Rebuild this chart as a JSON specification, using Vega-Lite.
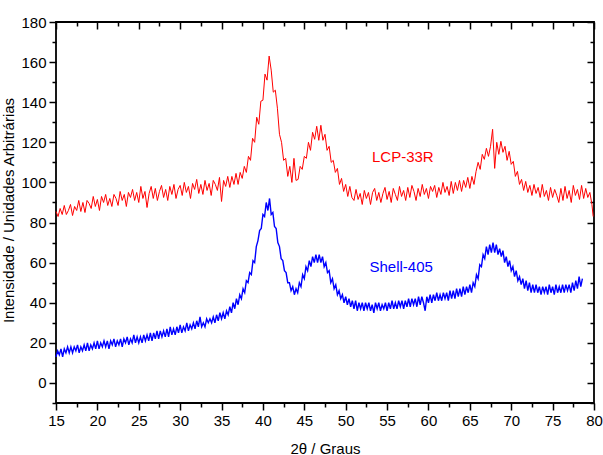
{
"$schema": "https://vega.github.io/schema/vega-lite/v6.json",
"width": 538, "height": 381,
"autosize": {"type": "none"},
"padding": {"left": 56, "top": 22, "right": 9, "bottom": 52},
"background": "white",
"config": {
 "view": {"stroke": "black", "strokeWidth": 1.8},
 "font": "Liberation Sans",
 "axis": {"grid": false, "domain": false, "tickColor": "black", "tickWidth": 1.5, "labelFont": "Liberation Sans", "labelFontSize": 15, "labelColor": "black", "labelFlush": false, "labelOverlap": false, "titleFont": "Liberation Sans", "titleFontSize": 15, "titleFontWeight": "normal", "titleColor": "black"}
},
"datasets": {
 "lcp": [
{"t":15,"i":85.5},{"t":15.25,"i":83},{"t":15.5,"i":87},{"t":15.75,"i":84},{"t":16,"i":88.5},{"t":16.25,"i":84},{"t":16.5,"i":86},{"t":16.75,"i":89},{"t":17,"i":83.5},{"t":17.25,"i":88},{"t":17.5,"i":86},{"t":17.75,"i":91},{"t":18,"i":85.5},{"t":18.25,"i":90},{"t":18.5,"i":85},{"t":18.75,"i":91},{"t":19,"i":89.5},{"t":19.25,"i":87},{"t":19.5,"i":93},{"t":19.75,"i":88},{"t":20,"i":91.5},{"t":20.25,"i":86},{"t":20.5,"i":93},{"t":20.75,"i":90},{"t":21,"i":94},{"t":21.25,"i":88.5},{"t":21.5,"i":92},{"t":21.75,"i":88},{"t":22,"i":94},{"t":22.25,"i":92},{"t":22.5,"i":88.5},{"t":22.75,"i":95.5},{"t":23,"i":91},{"t":23.25,"i":94},{"t":23.5,"i":88},{"t":23.75,"i":95},{"t":24,"i":92.5},{"t":24.25,"i":96.5},{"t":24.5,"i":91},{"t":24.75,"i":95},{"t":25,"i":90},{"t":25.25,"i":98},{"t":25.5,"i":92},{"t":25.75,"i":95.5},{"t":26,"i":87.5},{"t":26.25,"i":94.5},{"t":26.5,"i":98},{"t":26.75,"i":92},{"t":27,"i":97},{"t":27.25,"i":91},{"t":27.5,"i":95.5},{"t":27.75,"i":98.5},{"t":28,"i":92.5},{"t":28.25,"i":96.5},{"t":28.5,"i":91},{"t":28.75,"i":98},{"t":29,"i":94},{"t":29.25,"i":99},{"t":29.5,"i":92},{"t":29.75,"i":96.5},{"t":30,"i":98.5},{"t":30.25,"i":93.5},{"t":30.5,"i":100},{"t":30.75,"i":95},{"t":31,"i":98},{"t":31.25,"i":92},{"t":31.5,"i":99.5},{"t":31.75,"i":96.5},{"t":32,"i":101.5},{"t":32.25,"i":94.5},{"t":32.5,"i":99},{"t":32.75,"i":94},{"t":33,"i":101},{"t":33.25,"i":96},{"t":33.5,"i":99.5},{"t":33.75,"i":93.5},{"t":34,"i":101},{"t":34.25,"i":99},{"t":34.5,"i":96},{"t":34.75,"i":102.5},{"t":35,"i":90.5},{"t":35.25,"i":101},{"t":35.5,"i":98},{"t":35.75,"i":103},{"t":36,"i":97.5},{"t":36.25,"i":103},{"t":36.5,"i":99},{"t":36.75,"i":104.5},{"t":37,"i":99},{"t":37.25,"i":105},{"t":37.5,"i":102},{"t":37.75,"i":108},{"t":38,"i":105},{"t":38.25,"i":113},{"t":38.5,"i":111},{"t":38.75,"i":122},{"t":39,"i":120},{"t":39.25,"i":132.5},{"t":39.5,"i":129},{"t":39.75,"i":140.5},{"t":40,"i":141},{"t":40.25,"i":154},{"t":40.5,"i":151},{"t":40.75,"i":163},{"t":41,"i":156},{"t":41.25,"i":145},{"t":41.5,"i":146},{"t":41.75,"i":137},{"t":42,"i":124},{"t":42.25,"i":120},{"t":42.5,"i":111},{"t":42.75,"i":112},{"t":43,"i":103},{"t":43.25,"i":108},{"t":43.5,"i":100},{"t":43.75,"i":112},{"t":44,"i":101},{"t":44.25,"i":101.5},{"t":44.5,"i":108},{"t":44.75,"i":106.5},{"t":45,"i":113},{"t":45.25,"i":112},{"t":45.5,"i":120},{"t":45.75,"i":116},{"t":46,"i":125},{"t":46.25,"i":121.5},{"t":46.5,"i":128},{"t":46.75,"i":121},{"t":47,"i":128.5},{"t":47.25,"i":121},{"t":47.5,"i":124},{"t":47.75,"i":116},{"t":48,"i":118},{"t":48.25,"i":110},{"t":48.5,"i":111},{"t":48.75,"i":105},{"t":49,"i":107},{"t":49.25,"i":99},{"t":49.5,"i":102},{"t":49.75,"i":95.5},{"t":50,"i":99},{"t":50.25,"i":93},{"t":50.5,"i":98},{"t":50.75,"i":92.5},{"t":51,"i":91},{"t":51.25,"i":96.5},{"t":51.5,"i":91.5},{"t":51.75,"i":94.5},{"t":52,"i":89},{"t":52.25,"i":96},{"t":52.5,"i":92},{"t":52.75,"i":95},{"t":53,"i":89},{"t":53.25,"i":95},{"t":53.5,"i":97},{"t":53.75,"i":91},{"t":54,"i":95},{"t":54.25,"i":90},{"t":54.5,"i":94.5},{"t":54.75,"i":97.5},{"t":55,"i":91.5},{"t":55.25,"i":95.5},{"t":55.5,"i":90},{"t":55.75,"i":97},{"t":56,"i":94},{"t":56.25,"i":91},{"t":56.5,"i":98},{"t":56.75,"i":93},{"t":57,"i":96},{"t":57.25,"i":91},{"t":57.5,"i":97.5},{"t":57.75,"i":92.5},{"t":58,"i":98.5},{"t":58.25,"i":95.5},{"t":58.5,"i":91},{"t":58.75,"i":97},{"t":59,"i":93},{"t":59.25,"i":99},{"t":59.5,"i":94},{"t":59.75,"i":97},{"t":60,"i":92},{"t":60.25,"i":98},{"t":60.5,"i":95.5},{"t":60.75,"i":98.5},{"t":61,"i":92.5},{"t":61.25,"i":97.5},{"t":61.5,"i":94},{"t":61.75,"i":100},{"t":62,"i":95},{"t":62.25,"i":98},{"t":62.5,"i":93.5},{"t":62.75,"i":100.5},{"t":63,"i":94.5},{"t":63.25,"i":100},{"t":63.5,"i":96},{"t":63.75,"i":101},{"t":64,"i":95.5},{"t":64.25,"i":101},{"t":64.5,"i":97.5},{"t":64.75,"i":102.5},{"t":65,"i":97},{"t":65.25,"i":103},{"t":65.5,"i":99},{"t":65.75,"i":105.5},{"t":66,"i":110},{"t":66.25,"i":106.5},{"t":66.5,"i":114},{"t":66.75,"i":111.5},{"t":67,"i":117},{"t":67.25,"i":113},{"t":67.5,"i":118},{"t":67.75,"i":126.5},{"t":68,"i":107},{"t":68.25,"i":120},{"t":68.5,"i":114},{"t":68.75,"i":120.5},{"t":69,"i":115},{"t":69.25,"i":118},{"t":69.5,"i":111},{"t":69.75,"i":115.5},{"t":70,"i":109},{"t":70.25,"i":110.5},{"t":70.5,"i":103},{"t":70.75,"i":105.5},{"t":71,"i":99},{"t":71.25,"i":101.5},{"t":71.5,"i":96},{"t":71.75,"i":100.5},{"t":72,"i":95},{"t":72.25,"i":98.5},{"t":72.5,"i":93.5},{"t":72.75,"i":99},{"t":73,"i":94.5},{"t":73.25,"i":97.5},{"t":73.5,"i":92.5},{"t":73.75,"i":99},{"t":74,"i":93},{"t":74.25,"i":96},{"t":74.5,"i":91},{"t":74.75,"i":97.5},{"t":75,"i":92.5},{"t":75.25,"i":96.5},{"t":75.5,"i":93.5},{"t":75.75,"i":90},{"t":76,"i":97},{"t":76.25,"i":91},{"t":76.5,"i":98},{"t":76.75,"i":92},{"t":77,"i":96},{"t":77.25,"i":90},{"t":77.5,"i":98.5},{"t":77.75,"i":93.5},{"t":78,"i":96.5},{"t":78.25,"i":91.5},{"t":78.5,"i":98.5},{"t":78.75,"i":92},{"t":79,"i":97},{"t":79.25,"i":92.5},{"t":79.5,"i":95},{"t":79.75,"i":89},{"t":79.9,"i":83}
 ],
 "shell": [
{"t":15,"i":13},{"t":15.2,"i":16},{"t":15.4,"i":14},{"t":15.6,"i":17},{"t":15.8,"i":13},{"t":16,"i":17},{"t":16.2,"i":15},{"t":16.4,"i":18},{"t":16.6,"i":15},{"t":16.8,"i":18},{"t":17,"i":15},{"t":17.2,"i":18},{"t":17.4,"i":16},{"t":17.6,"i":19},{"t":17.8,"i":15},{"t":18,"i":18},{"t":18.2,"i":16},{"t":18.4,"i":19},{"t":18.6,"i":16},{"t":18.8,"i":20},{"t":19,"i":16},{"t":19.2,"i":19},{"t":19.4,"i":17},{"t":19.6,"i":20},{"t":19.8,"i":17},{"t":20,"i":21},{"t":20.2,"i":17},{"t":20.4,"i":20},{"t":20.6,"i":18},{"t":20.8,"i":21},{"t":21,"i":18},{"t":21.2,"i":21},{"t":21.4,"i":17},{"t":21.6,"i":21},{"t":21.8,"i":19},{"t":22,"i":22},{"t":22.2,"i":18},{"t":22.4,"i":21},{"t":22.6,"i":19},{"t":22.8,"i":22},{"t":23,"i":18},{"t":23.2,"i":22},{"t":23.4,"i":20},{"t":23.6,"i":23},{"t":23.8,"i":19},{"t":24,"i":22},{"t":24.2,"i":20},{"t":24.4,"i":24},{"t":24.6,"i":20},{"t":24.8,"i":23},{"t":25,"i":20},{"t":25.2,"i":23},{"t":25.4,"i":20},{"t":25.6,"i":24},{"t":25.8,"i":21},{"t":26,"i":24},{"t":26.2,"i":21},{"t":26.4,"i":25},{"t":26.6,"i":21},{"t":26.8,"i":25},{"t":27,"i":22},{"t":27.2,"i":26},{"t":27.4,"i":22},{"t":27.6,"i":26},{"t":27.8,"i":23},{"t":28,"i":26},{"t":28.2,"i":23},{"t":28.4,"i":27},{"t":28.6,"i":23},{"t":28.8,"i":28},{"t":29,"i":24},{"t":29.2,"i":27},{"t":29.4,"i":24},{"t":29.6,"i":28},{"t":29.8,"i":25},{"t":30,"i":29},{"t":30.2,"i":25},{"t":30.4,"i":28},{"t":30.6,"i":26},{"t":30.8,"i":30},{"t":31,"i":26},{"t":31.2,"i":29},{"t":31.4,"i":27},{"t":31.6,"i":30},{"t":31.8,"i":27},{"t":32,"i":31},{"t":32.2,"i":28},{"t":32.4,"i":33},{"t":32.6,"i":28},{"t":32.8,"i":30},{"t":33,"i":28},{"t":33.2,"i":32},{"t":33.4,"i":30},{"t":33.6,"i":32},{"t":33.8,"i":30},{"t":34,"i":33},{"t":34.2,"i":30},{"t":34.4,"i":34},{"t":34.6,"i":31},{"t":34.8,"i":35},{"t":35,"i":32},{"t":35.2,"i":35},{"t":35.4,"i":32},{"t":35.6,"i":36},{"t":35.8,"i":34},{"t":36,"i":38},{"t":36.2,"i":35},{"t":36.4,"i":40},{"t":36.6,"i":37},{"t":36.8,"i":42},{"t":37,"i":39},{"t":37.2,"i":44},{"t":37.4,"i":42},{"t":37.6,"i":47},{"t":37.8,"i":45},{"t":38,"i":51},{"t":38.2,"i":50},{"t":38.4,"i":55},{"t":38.6,"i":54},{"t":38.8,"i":61},{"t":39,"i":60},{"t":39.2,"i":68},{"t":39.4,"i":71},{"t":39.6,"i":76},{"t":39.8,"i":77},{"t":40,"i":84},{"t":40.2,"i":83},{"t":40.4,"i":90},{"t":40.6,"i":86},{"t":40.8,"i":92},{"t":41,"i":84},{"t":41.2,"i":85},{"t":41.4,"i":78},{"t":41.6,"i":77},{"t":41.8,"i":70},{"t":42,"i":68},{"t":42.2,"i":62},{"t":42.4,"i":61},{"t":42.6,"i":56},{"t":42.8,"i":55},{"t":43,"i":50},{"t":43.2,"i":50},{"t":43.4,"i":46},{"t":43.6,"i":48},{"t":43.8,"i":44},{"t":44,"i":47},{"t":44.2,"i":45},{"t":44.4,"i":50},{"t":44.6,"i":48},{"t":44.8,"i":54},{"t":45,"i":52},{"t":45.2,"i":58},{"t":45.4,"i":56},{"t":45.6,"i":61},{"t":45.8,"i":58},{"t":46,"i":63},{"t":46.2,"i":60},{"t":46.4,"i":64},{"t":46.6,"i":60},{"t":46.8,"i":64},{"t":47,"i":60},{"t":47.2,"i":63},{"t":47.4,"i":58},{"t":47.6,"i":60},{"t":47.8,"i":55},{"t":48,"i":56},{"t":48.2,"i":50},{"t":48.4,"i":52},{"t":48.6,"i":47},{"t":48.8,"i":49},{"t":49,"i":44},{"t":49.2,"i":46},{"t":49.4,"i":42},{"t":49.6,"i":44},{"t":49.8,"i":40},{"t":50,"i":43},{"t":50.2,"i":39},{"t":50.4,"i":42},{"t":50.6,"i":38},{"t":50.8,"i":41},{"t":51,"i":37},{"t":51.2,"i":41},{"t":51.4,"i":36},{"t":51.6,"i":40},{"t":51.8,"i":37},{"t":52,"i":40},{"t":52.2,"i":36},{"t":52.4,"i":40},{"t":52.6,"i":37},{"t":52.8,"i":40},{"t":53,"i":36},{"t":53.2,"i":39},{"t":53.4,"i":35},{"t":53.6,"i":40},{"t":53.8,"i":37},{"t":54,"i":40},{"t":54.2,"i":36},{"t":54.4,"i":39},{"t":54.6,"i":37},{"t":54.8,"i":40},{"t":55,"i":36},{"t":55.2,"i":40},{"t":55.4,"i":37},{"t":55.6,"i":41},{"t":55.8,"i":37},{"t":56,"i":40},{"t":56.2,"i":37},{"t":56.4,"i":41},{"t":56.6,"i":38},{"t":56.8,"i":41},{"t":57,"i":37},{"t":57.2,"i":41},{"t":57.4,"i":38},{"t":57.6,"i":42},{"t":57.8,"i":38},{"t":58,"i":42},{"t":58.2,"i":39},{"t":58.4,"i":42},{"t":58.6,"i":38},{"t":58.8,"i":43},{"t":59,"i":39},{"t":59.2,"i":43},{"t":59.4,"i":40},{"t":59.6,"i":36},{"t":59.8,"i":43},{"t":60,"i":40},{"t":60.2,"i":44},{"t":60.4,"i":40},{"t":60.6,"i":44},{"t":60.8,"i":41},{"t":61,"i":45},{"t":61.2,"i":41},{"t":61.4,"i":44},{"t":61.6,"i":41},{"t":61.8,"i":45},{"t":62,"i":42},{"t":62.2,"i":45},{"t":62.4,"i":41},{"t":62.6,"i":46},{"t":62.8,"i":42},{"t":63,"i":46},{"t":63.2,"i":42},{"t":63.4,"i":47},{"t":63.6,"i":43},{"t":63.8,"i":47},{"t":64,"i":43},{"t":64.2,"i":48},{"t":64.4,"i":44},{"t":64.6,"i":48},{"t":64.8,"i":45},{"t":65,"i":49},{"t":65.2,"i":45},{"t":65.4,"i":50},{"t":65.6,"i":48},{"t":65.8,"i":54},{"t":66,"i":52},{"t":66.2,"i":59},{"t":66.4,"i":58},{"t":66.6,"i":64},{"t":66.8,"i":62},{"t":67,"i":68},{"t":67.2,"i":64},{"t":67.4,"i":69},{"t":67.6,"i":65},{"t":67.8,"i":70},{"t":68,"i":65},{"t":68.2,"i":69},{"t":68.4,"i":64},{"t":68.6,"i":67},{"t":68.8,"i":63},{"t":69,"i":66},{"t":69.2,"i":60},{"t":69.4,"i":63},{"t":69.6,"i":58},{"t":69.8,"i":61},{"t":70,"i":56},{"t":70.2,"i":58},{"t":70.4,"i":53},{"t":70.6,"i":56},{"t":70.8,"i":51},{"t":71,"i":53},{"t":71.2,"i":49},{"t":71.4,"i":52},{"t":71.6,"i":47},{"t":71.8,"i":51},{"t":72,"i":46},{"t":72.2,"i":50},{"t":72.4,"i":45},{"t":72.6,"i":49},{"t":72.8,"i":45},{"t":73,"i":49},{"t":73.2,"i":45},{"t":73.4,"i":48},{"t":73.6,"i":44},{"t":73.8,"i":48},{"t":74,"i":45},{"t":74.2,"i":48},{"t":74.4,"i":44},{"t":74.6,"i":49},{"t":74.8,"i":45},{"t":75,"i":48},{"t":75.2,"i":44},{"t":75.4,"i":49},{"t":75.6,"i":45},{"t":75.8,"i":48},{"t":76,"i":45},{"t":76.2,"i":49},{"t":76.4,"i":45},{"t":76.6,"i":49},{"t":76.8,"i":46},{"t":77,"i":49},{"t":77.2,"i":45},{"t":77.4,"i":50},{"t":77.6,"i":46},{"t":77.8,"i":51},{"t":78,"i":47},{"t":78.2,"i":53},{"t":78.4,"i":48},{"t":78.6,"i":52}
 ],
 "labels": [
  {"t": 56.9, "i": 110.3, "s": "LCP-33R"},
  {"t": 56.7, "i": 55.5, "s": "Shell-405"}
 ]
},
"resolve": {"scale": {"x": "shared", "y": "shared"}, "axis": {"x": "independent", "y": "independent"}},
"layer": [
 {
  "data": {"name": "lcp"},
  "mark": {"type": "line", "color": "#ff0000", "strokeWidth": 1},
  "encoding": {
   "x": {"field": "t", "type": "quantitative", "scale": {"domain": [15, 80], "nice": false, "zero": false},
     "axis": {"orient": "bottom", "values": [15,20,25,30,35,40,45,50,55,60,65,70,75,80], "tickSize": 7, "labelPadding": 3, "title": "2θ / Graus", "titleBaseline": "alphabetic", "titleY": 50}},
   "y": {"field": "i", "type": "quantitative", "scale": {"domain": [-10, 180], "nice": false, "zero": false},
     "axis": {"orient": "left", "values": [0,20,40,60,80,100,120,140,160,180], "tickSize": 7, "labelPadding": 3, "title": "Intensidade / Unidades Arbitrárias", "titleBaseline": "alphabetic", "titleX": -42.5, "titleY": 188}}
  }
 },
 {
  "data": {"name": "shell"},
  "mark": {"type": "line", "color": "#0000ff", "strokeWidth": 1.4},
  "encoding": {
   "x": {"field": "t", "type": "quantitative", "scale": {"domain": [15, 80], "nice": false, "zero": false},
     "axis": {"orient": "bottom", "values": [17.5,22.5,27.5,32.5,37.5,42.5,47.5,52.5,57.5,62.5,67.5,72.5,77.5], "tickSize": 4, "labels": false, "title": null}},
   "y": {"field": "i", "type": "quantitative", "scale": {"domain": [-10, 180], "nice": false, "zero": false},
     "axis": {"orient": "left", "values": [-10,10,30,50,70,90,110,130,150,170], "tickSize": 4, "labels": false, "title": null}}
  }
 },
 {
  "data": {"name": "labels"},
  "transform": [{"filter": "datum.s == 'LCP-33R'"}],
  "mark": {"type": "text", "color": "#ff0000", "fontSize": 15, "font": "Liberation Sans", "align": "center", "baseline": "alphabetic"},
  "encoding": {
   "x": {"field": "t", "type": "quantitative", "scale": {"domain": [15, 80], "nice": false, "zero": false},
     "axis": {"orient": "top", "offset": -7, "values": [15,20,25,30,35,40,45,50,55,60,65,70,75,80], "tickSize": 7, "labels": false, "title": null}},
   "y": {"field": "i", "type": "quantitative", "scale": {"domain": [-10, 180], "nice": false, "zero": false},
     "axis": {"orient": "right", "offset": -7, "values": [0,20,40,60,80,100,120,140,160,180], "tickSize": 7, "labels": false, "title": null}},
   "text": {"field": "s"}
  }
 },
 {
  "data": {"name": "labels"},
  "transform": [{"filter": "datum.s == 'Shell-405'"}],
  "mark": {"type": "text", "color": "#0000ff", "fontSize": 15, "font": "Liberation Sans", "align": "center", "baseline": "alphabetic"},
  "encoding": {
   "x": {"field": "t", "type": "quantitative", "scale": {"domain": [15, 80], "nice": false, "zero": false},
     "axis": {"orient": "top", "offset": -4, "values": [17.5,22.5,27.5,32.5,37.5,42.5,47.5,52.5,57.5,62.5,67.5,72.5,77.5], "tickSize": 4, "labels": false, "title": null}},
   "y": {"field": "i", "type": "quantitative", "scale": {"domain": [-10, 180], "nice": false, "zero": false},
     "axis": {"orient": "right", "offset": -4, "values": [-10,10,30,50,70,90,110,130,150,170], "tickSize": 4, "labels": false, "title": null}},
   "text": {"field": "s"}
  }
 }
]
}
